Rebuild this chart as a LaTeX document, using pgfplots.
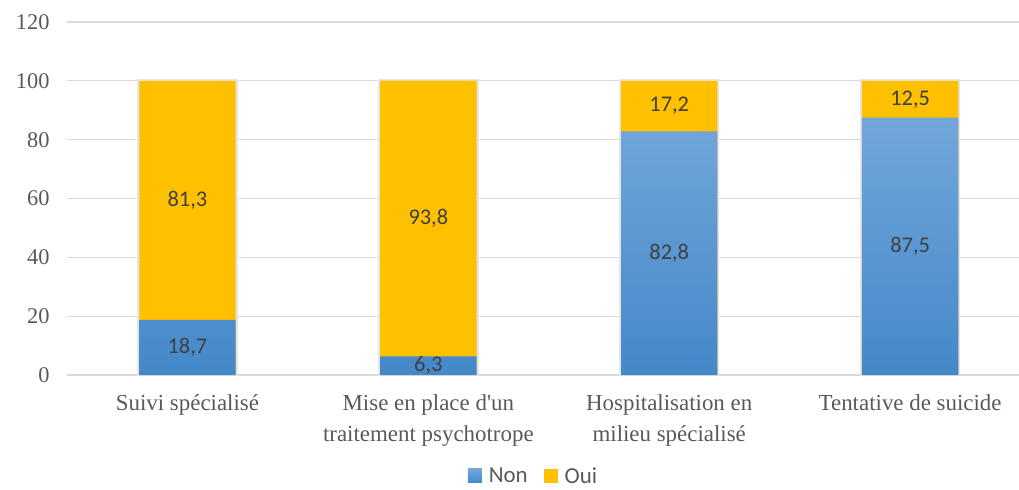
\documentclass[border=0pt]{standalone}
\usepackage{pgfplots}
\pgfplotsset{compat=1.18}
\usepackage{pgfplotstable}
\usepackage{fontspec}
\setmainfont{Liberation Serif}
\newfontfamily\carlito{Carlito}

\definecolor{gridgray}{HTML}{D9D9D9}
\definecolor{ticktext}{HTML}{595959}
\definecolor{labeltext}{HTML}{404040}
\definecolor{ouiyellow}{HTML}{FFC000}
\definecolor{nontop}{HTML}{72A6DB}
\definecolor{nonbottom}{HTML}{4488C9}

% Percentages per item: Non / Oui
\pgfplotstableread{
x non oui
0 18.7 81.3
1 6.3 93.8
2 82.8 17.2
3 87.5 12.5
}\datatable

\begin{document}
\begin{tikzpicture}
\begin{axis}[
  width=952bp, height=353bp, scale only axis,
  xmin=-0.5, xmax=3.452,
  ymin=0, ymax=120,
  ytick={0,20,...,120},
  xtick={0,1,2,3},
  xticklabels={Suivi spécialisé,{Mise en place d\textquotesingle un\\traitement psychotrope},{Hospitalisation en\\milieu spécialisé},Tentative de suicide},
  ymajorgrids,
  grid style={gridgray, line width=1.3bp},
  axis line style={draw=none},
  major tick length=0pt,
  /pgf/number format/assume math mode=true,
  yticklabel style={font=\fontsize{22.5}{26}\selectfont, text=ticktext, xshift=-14bp},
  xticklabel style={font=\fontsize{23}{31}\selectfont, text=ticktext, align=center, yshift=-16bp},
  legend columns=2,
  legend style={draw=none, fill=none, at={(0.49,-0.286)}, anchor=center,
    font=\carlito\fontsize{23}{26}\selectfont, text=ticktext,
    inner sep=0pt,
    /tikz/every odd column/.append style={column sep=5bp},
    /tikz/every even column/.append style={column sep=14bp}},
  legend image code/.code={\draw[#1, draw=none] (0bp,-7bp) rectangle (14bp,7bp);},
]
\addlegendimage{draw=none, top color=nontop, bottom color=nonbottom}
\addlegendentry{Non}
\addlegendimage{draw=none, fill=ouiyellow}
\addlegendentry{Oui}

% full bar (Non + Oui) in yellow, Non part drawn over it
\addplot[ybar, bar width=0.4, bar shift=0pt, draw=none, fill=ouiyellow,
  preaction={draw=black!10, line width=4bp}, forget plot]
  table[x=x, y expr=\thisrow{non}+\thisrow{oui}] {\datatable};
\addplot[ybar, bar width=0.4, bar shift=0pt, draw=none,
  top color=nontop, bottom color=nonbottom, forget plot]
  table[x=x, y=non] {\datatable};

% value labels centred in each segment
\pgfplotsset{vallabel/.style={only marks, mark=text, text mark={},
  point meta=explicit, forget plot,
  nodes near coords={\pgfmathprintnumber[fixed,fixed zerofill,precision=1,use comma]{\pgfplotspointmeta}},
  nodes near coords align={center},
  every node near coord/.append style={font=\carlito\fontsize{22.5}{26}\selectfont, text=labeltext}}}
\addplot[vallabel] table[x=x, y expr=\thisrow{non}/2, meta=non] {\datatable};
\addplot[vallabel] table[x=x, y expr=\thisrow{non}+\thisrow{oui}/2, meta=oui] {\datatable};
\end{axis}
\pgfresetboundingbox
\path[use as bounding box] (-67bp,-115bp) rectangle (952bp,375bp);
\end{tikzpicture}
\end{document}
